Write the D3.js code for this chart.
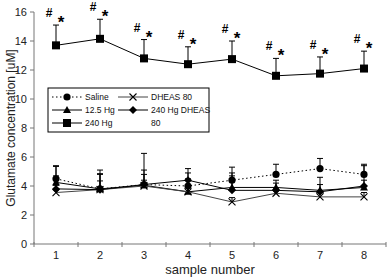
<!DOCTYPE html>
<html>
<head>
<meta charset="utf-8">
<script src="https://cdn.jsdelivr.net/npm/d3@7"></script>
<style>
  body { margin: 0; background: #fff; }
  text { font-family: "Liberation Sans", Arial, sans-serif; }
</style>
</head>
<body>
<script>
var width = 387, height = 279;
var samples = [1, 2, 3, 4, 5, 6, 7, 8];
var yTicks = [0, 2, 4, 6, 8, 10, 12, 14, 16];

// means and upper error (SD)
var saline = [4.5, 3.8, 4.1, 4.0, 4.4, 4.8, 5.2, 4.8];
var salineErr = [0.9, 1.3, 0.7, 0.9, 0.9, 0.7, 0.7, 0.7];
var hg125 = [4.25, 3.8, 4.05, 3.6, 3.9, 3.9, 3.7, 3.9];
var hg125Err = [1.1, 1.0, 2.2, 0.9, 0.8, 0.5, 0.4, 0.5];
var dheas80 = [3.55, 3.75, 4.0, 3.6, 2.9, 3.5, 3.25, 3.25];
var dheas80Err = [0.5, 0.6, 0.4, 0.4, 0.3, 0.3, 0.3, 0.3];
var hg240 = [13.7, 14.15, 12.8, 12.4, 12.75, 11.6, 11.75, 12.1];
var hg240Err = [1.4, 1.35, 1.3, 1.2, 1.25, 1.2, 1.15, 1.2];
var hg240dheas = [3.8, 3.75, 4.1, 4.4, 3.7, 3.7, 3.6, 4.0];
var hg240dheasErr = [0.9, 1.1, 1.0, 0.8, 1.2, 0.5, 1.0, 1.4];

var series = [
  {name: "Saline", values: saline, err: salineErr, marker: "circle", color: "#000", dash: "1.5,2.5"},
  {name: "12.5 Hg", values: hg125, err: hg125Err, marker: "triangle", color: "#000", dash: null},
  {name: "DHEAS 80", values: dheas80, err: dheas80Err, marker: "cross", color: "#444", dash: null},
  {name: "240 Hg DHEAS", values: hg240dheas, err: hg240dheasErr, marker: "diamond", color: "#000", dash: null},
  {name: "240 Hg", values: hg240, err: hg240Err, marker: "square", color: "#000", dash: null}
];

var svg = d3.select("body").append("svg")
  .attr("width", width)
  .attr("height", height);

var x = d3.scaleBand().domain(samples).range([34, 386]);
var y = d3.scaleLinear().domain([0, 16]).range([244, 12]);
var cx = function(d) { return x(d) + x.bandwidth() / 2; };

// y axis
svg.append("line").attr("x1", 34).attr("x2", 34).attr("y1", y(16)).attr("y2", y(0))
  .attr("stroke", "#777").attr("stroke-width", 1);
svg.selectAll(".ytick").data(yTicks).enter().append("line")
  .attr("x1", 30).attr("x2", 34)
  .attr("y1", function(d) { return y(d); }).attr("y2", function(d) { return y(d); })
  .attr("stroke", "#777");
svg.selectAll(".ylab").data(yTicks).enter().append("text")
  .attr("x", 27).attr("y", function(d) { return y(d) + 4; })
  .attr("text-anchor", "end").attr("font-size", 11).attr("fill", "#222")
  .text(function(d) { return d; });

// x axis
svg.append("line").attr("x1", 34).attr("x2", 386).attr("y1", y(0)).attr("y2", y(0))
  .attr("stroke", "#777");
var bounds = samples.map(function(d) { return x(d); }).concat([386]);
svg.selectAll(".xtick").data(bounds).enter().append("line")
  .attr("x1", function(d) { return d; }).attr("x2", function(d) { return d; })
  .attr("y1", y(0) - 2).attr("y2", y(0) + 3)
  .attr("stroke", "#777");
svg.selectAll(".xlab").data(samples).enter().append("text")
  .attr("x", cx).attr("y", 259)
  .attr("text-anchor", "middle").attr("font-size", 11).attr("fill", "#222")
  .text(function(d) { return d; });

svg.append("text").attr("x", 210).attr("y", 274)
  .attr("text-anchor", "middle").attr("font-size", 13).attr("fill", "#222")
  .text("sample number");
svg.append("text")
  .attr("transform", "translate(15,128) rotate(-90)")
  .attr("text-anchor", "middle").attr("font-size", 12).attr("fill", "#222")
  .text("Glutamate concentration [uM]");

function drawMarker(g, type, px, py) {
  if (type === "circle") {
    g.append("circle").attr("cx", px).attr("cy", py).attr("r", 3.6).attr("fill", "#000");
  } else if (type === "square") {
    g.append("rect").attr("x", px - 4).attr("y", py - 4).attr("width", 8).attr("height", 8).attr("fill", "#000");
  } else if (type === "triangle") {
    g.append("path").attr("d", "M" + px + "," + (py - 4) + "L" + (px + 4) + "," + (py + 3) + "L" + (px - 4) + "," + (py + 3) + "Z").attr("fill", "#000");
  } else if (type === "diamond") {
    g.append("path").attr("d", "M" + px + "," + (py - 4) + "L" + (px + 4) + "," + py + "L" + px + "," + (py + 4) + "L" + (px - 4) + "," + py + "Z").attr("fill", "#000");
  } else if (type === "cross") {
    g.append("path").attr("d", "M" + (px - 3.5) + "," + (py - 3.5) + "L" + (px + 3.5) + "," + (py + 3.5) + "M" + (px + 3.5) + "," + (py - 3.5) + "L" + (px - 3.5) + "," + (py + 3.5))
      .attr("stroke", "#000").attr("stroke-width", 1.1).attr("fill", "none");
  }
}

var line = d3.line().x(function(d) { return cx(d.s); }).y(function(d) { return y(d.v); });

series.forEach(function(sr) {
  var pts = samples.map(function(s, i) { return {s: s, v: sr.values[i], e: sr.err[i]}; });
  var g = svg.append("g");
  // error bars (upper only)
  pts.forEach(function(p) {
    g.append("line").attr("x1", cx(p.s)).attr("x2", cx(p.s))
      .attr("y1", y(p.v)).attr("y2", y(p.v + p.e)).attr("stroke", "#000").attr("stroke-width", 1);
    g.append("line").attr("x1", cx(p.s) - 3).attr("x2", cx(p.s) + 3)
      .attr("y1", y(p.v + p.e)).attr("y2", y(p.v + p.e)).attr("stroke", "#000").attr("stroke-width", 1);
  });
  g.append("path").datum(pts).attr("d", line)
    .attr("fill", "none").attr("stroke", sr.color).attr("stroke-width", 1)
    .attr("stroke-dasharray", sr.dash);
  pts.forEach(function(p) { drawMarker(g, sr.marker, cx(p.s), y(p.v)); });
});

// significance marks above 240 Hg
samples.forEach(function(s, i) {
  var top = y(hg240[i] + hg240Err[i]);
  svg.append("text").attr("x", cx(s) - 7).attr("y", top - 8)
    .attr("text-anchor", "middle").attr("font-size", 12).attr("font-weight", "bold").text("#");
  svg.append("text").attr("x", cx(s) + 5).attr("y", top + 3)
    .attr("text-anchor", "middle").attr("font-size", 17).attr("font-weight", "bold").text("*");
});

// legend
var lg = svg.append("g");
lg.append("rect").attr("x", 48).attr("y", 88).attr("width", 161).attr("height", 44)
  .attr("fill", "#fff").attr("stroke", "#000").attr("stroke-width", 1);
var legendItems = [
  {s: series[0], col: 0, row: 0, label: "Saline"},
  {s: series[1], col: 0, row: 1, label: "12.5 Hg"},
  {s: series[4], col: 0, row: 2, label: "240 Hg"},
  {s: series[2], col: 1, row: 0, label: "DHEAS 80"},
  {s: series[3], col: 1, row: 1, label: "240 Hg DHEAS"}
];
legendItems.forEach(function(it) {
  var x0 = it.col === 0 ? 52 : 118;
  var yy = 97 + it.row * 13;
  lg.append("line").attr("x1", x0).attr("x2", x0 + 30).attr("y1", yy).attr("y2", yy)
    .attr("stroke", it.s.color).attr("stroke-width", 1).attr("stroke-dasharray", it.s.dash);
  drawMarker(lg, it.s.marker, x0 + 15, yy);
  lg.append("text").attr("x", x0 + 33).attr("y", yy + 3).attr("font-size", 8.5).attr("fill", "#111").text(it.label);
});
lg.append("text").attr("x", 151).attr("y", 126).attr("font-size", 8.5).attr("fill", "#111").text("80");
</script>
</body>
</html>
